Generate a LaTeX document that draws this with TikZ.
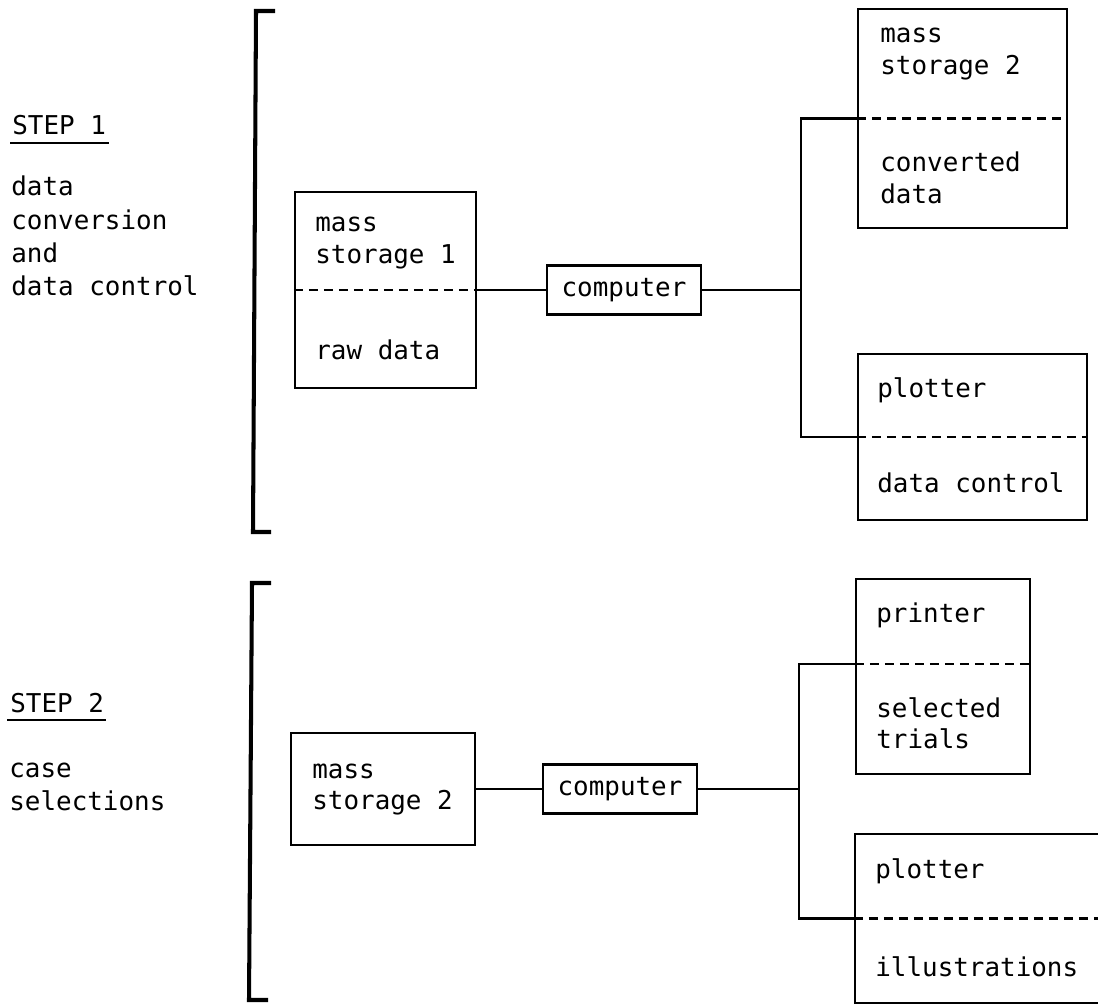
\documentclass[tikz,border=0pt]{standalone}
\usepackage{fontspec}
\setmonofont{DejaVu Sans Mono}
\newcommand{\stacklines}[1]{\begin{tabular}[t]{@{}l@{}}#1\end{tabular}}

\begin{document}
\begin{tikzpicture}[
  x=0.02cm,
  y=-0.02cm,
  flow box/.style={
    draw,
    line width=1.25pt,
    inner sep=0pt,
    font=\fontsize{14.75}{18}\selectfont\ttfamily
  },
  flow split/.style={
    line width=1.25pt,
    dash pattern=on 0.18cm off 0.12cm
  },
  flow link/.style={
    line width=1.2pt
  },
  step bracket/.style={
    line width=2.3pt
  },
  flow text/.style={
    anchor=base west,
    inner sep=0pt,
    font=\fontsize{14.75}{18}\selectfont\ttfamily
  },
  step text/.style={
    flow text,
    font=\fontsize{14.75}{18.8}\selectfont\ttfamily
  },
]
\useasboundingbox (0,0) rectangle (1098,1006);
\clip (0,0) rectangle (1098,1006);

\node[step text] (step1) at (12,135) {STEP 1};
\draw[flow link] ([xshift=-0.04cm,yshift=-0.16cm]step1.base west) -- ([xshift=0.06cm,yshift=-0.16cm]step1.base east);
\node[step text] (step1 text) at (11,196) {\stacklines{data\\conversion\\and\\data control}};
\draw[step bracket] (275,11) -- (256,11) -- (253,532) -- (271,532);

\node[flow box, minimum width=3.62cm, minimum height=3.92cm] (ms1) at (385.5,290) {};
\draw[flow split] (ms1.west) -- (ms1.east);
\node[flow text] (ms1 name) at (315,232) {\stacklines{mass\\storage 1}};
\node[flow text] (ms1 data) at (315,360) {raw data};

\node[flow box, minimum width=3.08cm, minimum height=0.98cm] (cpu1) at (624,290) {computer};

\node[flow box, minimum width=4.18cm, minimum height=4.38cm] (ms2) at (962.5,118.5) {};
\draw[flow split] (ms2.west) -- (ms2.east);
\node[flow text] (ms2 name) at (880,43) {\stacklines{mass\\storage 2}};
\node[flow text] (ms2 data) at (880,172) {\stacklines{converted\\data}};

\node[flow box, minimum width=4.58cm, minimum height=3.32cm] (plot1) at (972.5,437) {};
\draw[flow split] (plot1.west) -- (plot1.east);
\node[flow text] (plot1 name) at (877,398) {plotter};
\node[flow text] (plot1 data) at (877,492) {data control};

\coordinate (fork1) at (801,290);
\draw[flow link] (ms1.east) -- (cpu1.west);
\draw[flow link] (cpu1.east) -- (fork1);
\draw[flow link] (ms2.west) -| (fork1) |- (plot1.west);

\node[step text] (step2) at (10,712) {STEP 2};
\draw[flow link] ([xshift=-0.06cm,yshift=-0.16cm]step2.base west) -- ([xshift=0.04cm,yshift=-0.16cm]step2.base east);
\node[step text] (step2 text) at (9,777) {\stacklines{case\\selections}};
\draw[step bracket] (271,583) -- (252,583) -- (249,1000) -- (268,1000);

\node[flow box, minimum width=3.68cm, minimum height=2.24cm] (ms3) at (383,789) {};
\node[flow text] (ms3 name) at (312,778) {\stacklines{mass\\storage 2}};

\node[flow box, minimum width=3.08cm, minimum height=0.98cm] (cpu2) at (620,789) {computer};

\node[flow box, minimum width=3.48cm, minimum height=3.9cm] (prn) at (943,676.5) {};
\coordinate (prn cut) at (943,664);
\draw[flow split] (prn.west |- prn cut) -- (prn.east |- prn cut);
\node[flow text] (prn name) at (876,622) {printer};
\node[flow text] (prn data) at (876,717) {\stacklines{selected\\trials}};

\node[flow box, minimum width=5.1cm, minimum height=3.38cm] (plot2) at (982.5,918.5) {};
\draw[flow split] (plot2.west) -- (plot2.east);
\node[flow text] (plot2 name) at (875,878) {plotter};
\node[flow text] (plot2 data) at (875,976) {illustrations};

\coordinate (fork2) at (799,789);
\draw[flow link] (ms3.east) -- (cpu2.west);
\draw[flow link] (cpu2.east) -- (fork2);
\draw[flow link] (prn.west |- prn cut) -| (fork2) |- (plot2.west);
\end{tikzpicture}
\end{document}
